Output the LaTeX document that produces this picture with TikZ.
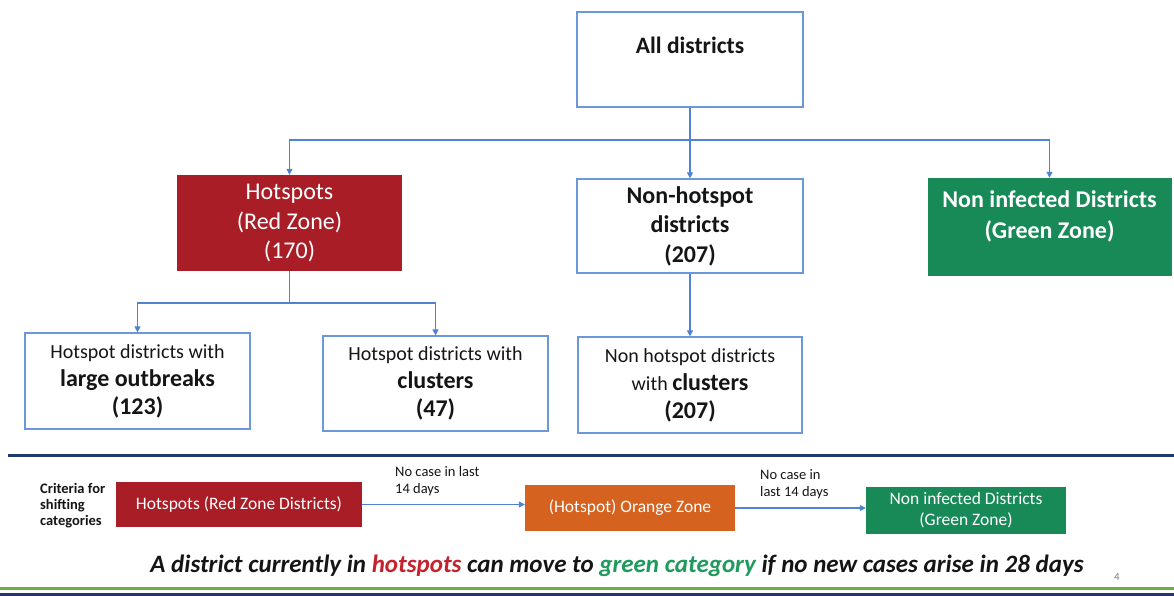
\documentclass[tikz,border=0pt]{standalone}
\usepackage{fontspec}
\setmainfont{Carlito}
\usetikzlibrary{arrows.meta}
\definecolor{boxblue}{HTML}{6C98DA}
\definecolor{lineblue}{HTML}{4F83D2}
\definecolor{hotred}{HTML}{A91D26}
\definecolor{zgreen}{HTML}{178A57}
\definecolor{zorange}{HTML}{D5621F}
\definecolor{navy}{HTML}{1E3A6C}
\definecolor{lgreen}{HTML}{6AAE45}
\definecolor{txtred}{HTML}{C5222D}
\definecolor{txtgreen}{HTML}{1E9A5C}
\definecolor{ink}{HTML}{151515}
\tikzset{
  obox/.style={draw=boxblue, line width=1.2pt, fill=white, inner sep=0pt, text=ink},
  fbox/.style={inner sep=0pt, text=white},
  conn/.style={draw=lineblue, line width=1.1pt, -{Triangle[width=6pt,length=6pt]}},
  line/.style={draw=lineblue, line width=1.1pt},
  bigtxt/.style={font=\fontsize{24}{29.5}\selectfont, align=center},
  smalltxt/.style={font=\fontsize{20}{28}\selectfont, align=center},
  bottxt/.style={font=\fontsize{17.5}{21}\selectfont, align=center},
  lbltxt/.style={font=\fontsize{14.5}{17}\selectfont, align=left, text=ink, inner sep=0pt, anchor=north west}
}
\begin{document}
\begin{tikzpicture}[x=1pt,y=-1pt]
\useasboundingbox[fill=white] (0,0) rectangle (1174,596);

% top level
\node[obox, minimum width=226pt, minimum height=95pt] (all) at (690,59.5) {};
\node[font=\fontsize{23.5}{28}\selectfont\bfseries, text=ink] (alltxt) at (690,45) {All districts};

\node[fbox, fill=hotred, minimum width=225pt, minimum height=96pt, bigtxt] (hot) at (289.5,223) {Hotspots\\(Red Zone)\\(170)};
\node[obox, minimum width=226pt, minimum height=94pt, bigtxt, font=\fontsize{24}{29.5}\selectfont\bfseries] (nonhot) at (690,226) {Non-hotspot\\districts\\(207)};
\node[fbox, fill=zgreen, minimum width=244pt, minimum height=98pt] (green) at (1049.5,227) {};
\node[bigtxt, text=white, font=\fontsize{24}{30.5}\selectfont\bfseries] (greentxt) at (1049.5,216.5) {Non infected Districts\\(Green Zone)};

% second level
\node[obox, minimum width=225pt, minimum height=96pt, smalltxt] (large) at (137.5,381) {Hotspot districts with\\{\fontsize{24}{28}\selectfont\bfseries large outbreaks}\\{\fontsize{24}{28}\selectfont\bfseries (123)}};
\node[obox, minimum width=225pt, minimum height=95pt, smalltxt] (clust) at (435.5,383.5) {Hotspot districts with\\{\fontsize{24}{28}\selectfont\bfseries clusters}\\{\fontsize{24}{28}\selectfont\bfseries (47)}};
\node[obox, minimum width=224pt, minimum height=96pt, smalltxt] (nhclust) at (690,385) {Non hotspot districts\\with {\fontsize{24}{28}\selectfont\bfseries clusters}\\{\fontsize{24}{28}\selectfont\bfseries (207)}};

% connectors top
\coordinate (j1) at (690,140);
\draw[line] (all.south) -- (j1);
\draw[conn] (j1) -- (nonhot.north);
\draw[conn] (j1) -| (hot.north);
\draw[conn] (j1) -| (green.north);
\coordinate (j2) at (289.5,303);
\draw[line] (hot.south) -- (j2);
\draw[conn] (j2) -| (large.north);
\draw[conn] (j2) -| (clust.north);
\draw[conn] (nonhot.south) -- (nhclust.north);

% separator
\draw[navy, line width=3pt] (8,455) -- (1174,455);

% bottom row
\node[font=\fontsize{14.5}{16}\selectfont\bfseries, align=left, text=ink, anchor=west, inner sep=0pt] (crit) at (40,506) {Criteria for\\shifting\\categories};
\node[fbox, fill=hotred, minimum width=246pt, minimum height=45pt, bottxt] (red2) at (239,504.5) {Hotspots (Red Zone Districts)};
\node[fbox, fill=zorange, minimum width=210pt, minimum height=46pt, bottxt] (orange) at (630,508) {(Hotspot) Orange Zone};
\node[fbox, fill=zgreen, minimum width=200pt, minimum height=47pt, bottxt] (green2) at (966,510.5) {Non infected Districts\\(Green Zone)};
\draw[conn] (red2.east) -- (red2.east -| orange.west);
\draw[conn] (orange.east) -- (orange.east -| green2.west);
\node[lbltxt] (lbl1) at (395,466) {No case in last\\14 days};
\node[lbltxt] (lbl2) at (760,469) {No case in\\last 14 days};

% sentence
\node[font=\fontsize{25}{30}\selectfont\bfseries\itshape, text=ink] (sent) at (617,566) {A district currently in \textcolor{txtred}{hotspots} can move to \textcolor{txtgreen}{green category} if no new cases arise in 28 days};
\node[font=\fontsize{11}{13}\selectfont, text=gray] (pnum) at (1117,577) {4};

% bottom lines
\draw[lgreen, line width=3pt] (0,588) -- (1174,588);
\draw[navy, line width=3pt] (0,594.5) -- (1174,594.5);
\end{tikzpicture}
\end{document}
